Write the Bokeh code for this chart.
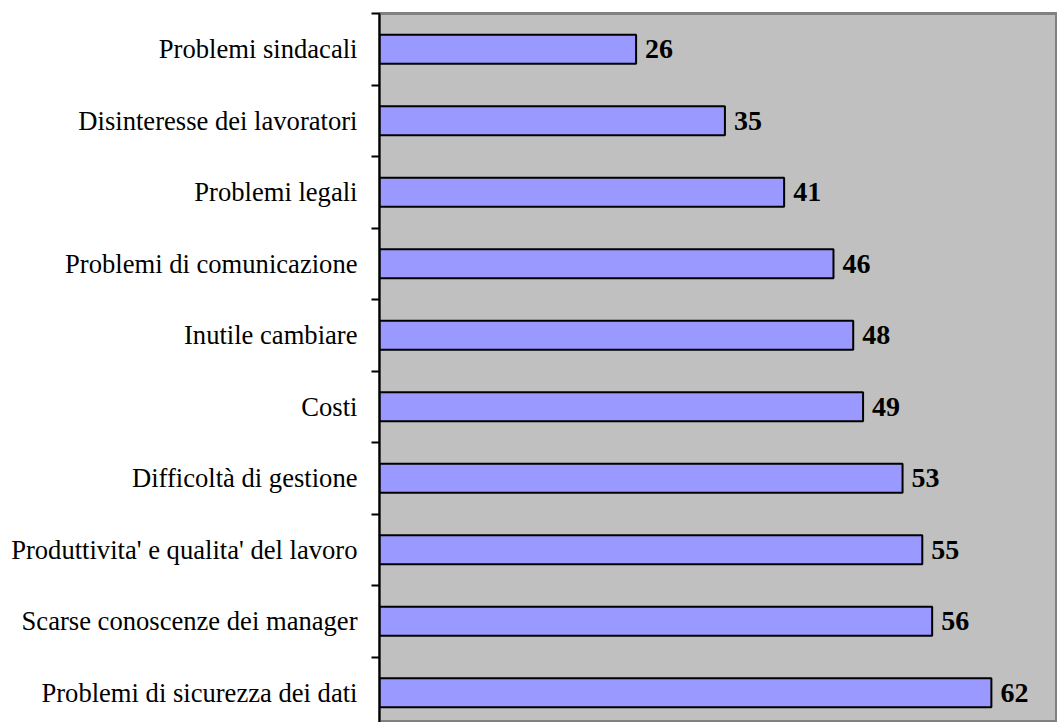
from bokeh.plotting import figure
from bokeh.models import Range1d, FixedTicker, ColumnDataSource
from bokeh.core.properties import value
from bokeh.embed import file_html
from bokeh.resources import INLINE

categories = [
    "Problemi sindacali",
    "Disinteresse dei lavoratori",
    "Problemi legali",
    "Problemi di comunicazione",
    "Inutile cambiare",
    "Costi",
    "Difficoltà di gestione",
    "Produttivita' e qualita' del lavoro",
    "Scarse conoscenze dei manager",
    "Problemi di sicurezza dei dati",
]
values = [26, 35, 41, 46, 48, 49, 53, 55, 56, 62]

n = len(categories)
ypos = [n - 1 - i for i in range(n)]

src = ColumnDataSource(dict(
    y=ypos, v=values, lab=[str(v) for v in values], cat=categories,
))

p = figure(
    width=1057, height=722,
    frame_width=678, frame_height=709,
    min_border_left=379, min_border_top=13, min_border_right=0, min_border_bottom=0,
    x_range=Range1d(0, 68.7), y_range=Range1d(-0.416, n - 0.5),
    output_backend="svg", toolbar_location=None,
)
p.background_fill_color = "#C0C0C0"
p.border_fill_color = "white"
p.outline_line_color = "#808080"
p.outline_line_width = 3
p.xgrid.visible = False
p.ygrid.visible = False
p.xaxis.visible = False

p.hbar(y="y", right="v", left=0, height=0.405, source=src,
       fill_color="#9999FF", line_color="black", line_width=2)

p.text(x="v", y="y", text="lab", source=src, x_offset=9,
       text_align="left", text_baseline="middle",
       text_font=value("Liberation Serif"), text_font_style="bold",
       text_font_size="28px", text_color="black")

ax = p.yaxis[0]
ax.ticker = FixedTicker(ticks=ypos, minor_ticks=[k - 0.5 for k in range(n + 1)])
ax.major_label_overrides = {y: c for y, c in zip(ypos, categories)}
ax.major_tick_out = 0
ax.major_tick_in = 0
ax.minor_tick_out = 8
ax.minor_tick_in = 0
ax.minor_tick_line_color = "black"
ax.minor_tick_line_width = 2
ax.axis_line_color = "black"
ax.axis_line_width = 2
ax.major_label_standoff = 14
ax.major_label_text_font = "Liberation Serif"
ax.major_label_text_font_size = "26.6px"
ax.major_label_text_color = "black"

open("out.html", "w").write(file_html(p, INLINE))
